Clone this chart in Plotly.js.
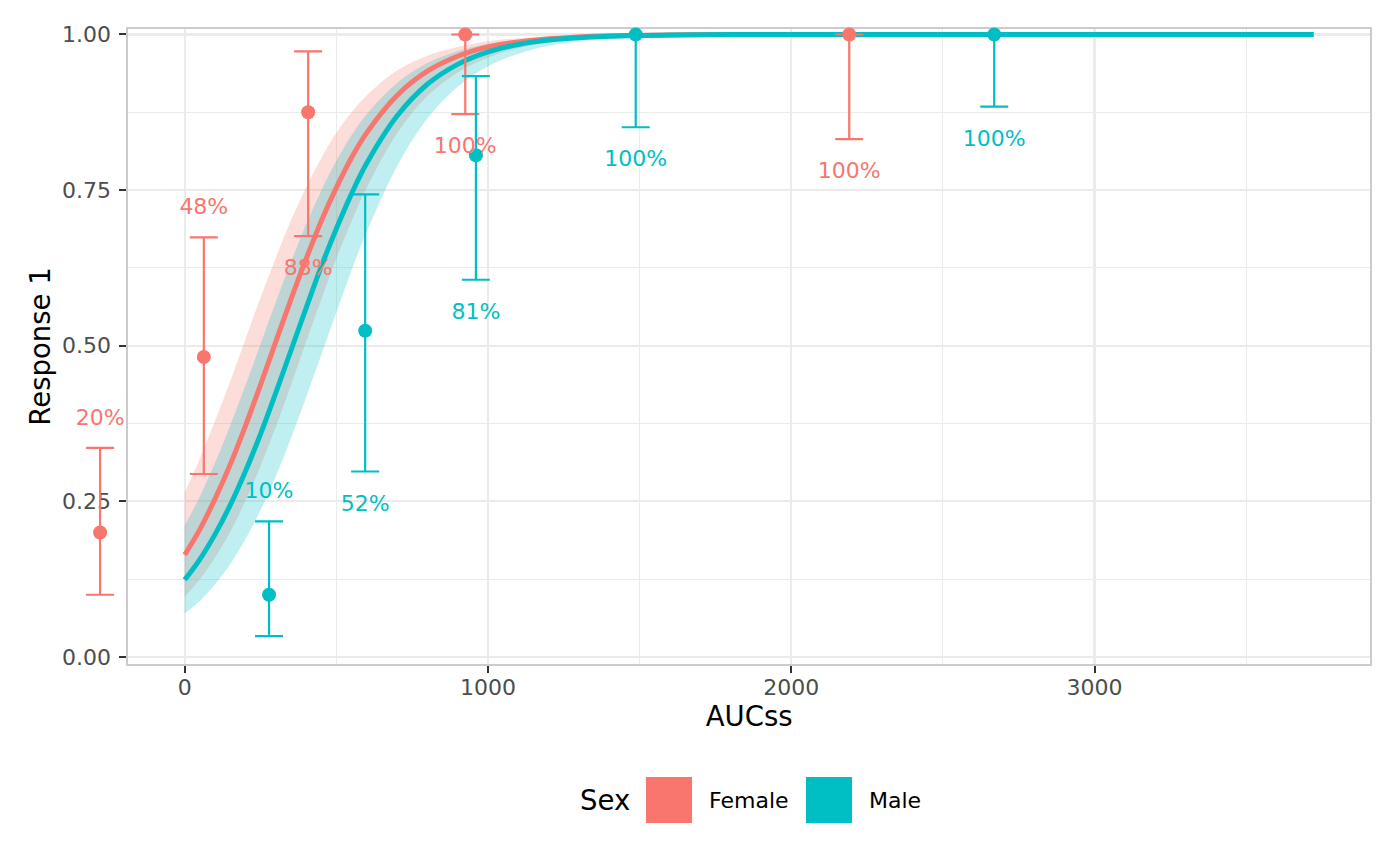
<!DOCTYPE html>
<html>
<head>
<meta charset="utf-8">
<script src="https://cdn.plot.ly/plotly-3.0.1.min.js"></script>
<style>
  html, body { margin: 0; padding: 0; background: #ffffff; }
  #chart { width: 1400px; height: 866px; }
</style>
</head>
<body>
<div id="chart"></div>
<script>
// Fitted curves
const curveX = [0, 50, 100, 150, 200, 250, 300, 350, 400, 450, 500, 550, 600, 700, 800, 900, 1000, 1100, 1200, 1400, 1600, 1800, 2000, 2500, 3000, 3722];

const femaleFit = [0.164, 0.205, 0.254, 0.309, 0.371, 0.437, 0.506, 0.574, 0.639, 0.700, 0.754, 0.802, 0.842, 0.902, 0.941, 0.965, 0.980, 0.988, 0.993, 0.998, 0.999, 1.0, 1.0, 1.0, 1.0, 1.0];
const femaleLow = [0.097, 0.125, 0.160, 0.201, 0.251, 0.307, 0.369, 0.436, 0.506, 0.574, 0.640, 0.700, 0.754, 0.841, 0.901, 0.939, 0.963, 0.978, 0.987, 0.995, 0.998, 0.999, 1.0, 1.0, 1.0, 1.0];
const femaleHigh = [0.264, 0.319, 0.379, 0.443, 0.510, 0.577, 0.641, 0.701, 0.754, 0.801, 0.842, 0.875, 0.902, 0.942, 0.966, 0.980, 0.989, 0.994, 0.996, 0.999, 1.0, 1.0, 1.0, 1.0, 1.0, 1.0];

const maleFit = [0.124, 0.157, 0.197, 0.244, 0.298, 0.358, 0.424, 0.492, 0.560, 0.627, 0.688, 0.744, 0.793, 0.869, 0.920, 0.952, 0.972, 0.984, 0.991, 0.997, 0.999, 1.0, 1.0, 1.0, 1.0, 1.0];
const maleLow = [0.070, 0.090, 0.117, 0.149, 0.189, 0.236, 0.290, 0.351, 0.417, 0.485, 0.554, 0.621, 0.683, 0.788, 0.865, 0.916, 0.949, 0.969, 0.982, 0.994, 0.998, 0.999, 1.0, 1.0, 1.0, 1.0];
const maleHigh = [0.211, 0.258, 0.312, 0.372, 0.436, 0.503, 0.570, 0.634, 0.695, 0.749, 0.797, 0.838, 0.872, 0.922, 0.954, 0.973, 0.985, 0.991, 0.995, 0.998, 1.0, 1.0, 1.0, 1.0, 1.0, 1.0];

// Observed proportions per exposure bin
const femaleX = [-279, 63, 407, 925, 2191];
const femaleP = [0.200, 0.482, 0.875, 1.0, 1.0];
const femaleLo = [0.100, 0.294, 0.676, 0.872, 0.832];
const femaleHi = [0.336, 0.674, 0.973, 1.0, 1.0];
const femaleLabels = ["20%", "48%", "88%", "100%", "100%"];

const maleX = [278, 595, 960, 1487, 2669];
const maleP = [0.100, 0.524, 0.806, 1.0, 1.0];
const maleLo = [0.0335, 0.298, 0.606, 0.851, 0.884];
const maleHi = [0.218, 0.743, 0.933, 1.0, 1.0];
const maleLabels = ["10%", "52%", "81%", "100%", "100%"];

const RED = "#F8766D";
const CYAN = "#00BFC4";
const FONT = "DejaVu Sans";

// x range of the panel, and a wider hidden axis with the same scale so that
// points left of the panel (drawn unclipped in the original) still show up
const X_RANGE = [-186, 3908];
const X_WIDE = [-444.2, 3908];
const X_DOMAIN = [0.0593, 1];
const Y_RANGE = [-0.0112, 1.0088];

// label goes above the bar for low points, below it for high ones
// (plotly centres text a touch high, hence the uneven nudges)
function labelY(p, lo, hi) {
  return p.map((v, i) => (v > 0.5 ? lo[i] - 0.054 : hi[i] + 0.046));
}

function ribbon(lo, hi, fill) {
  return [
    { x: curveX, y: lo, mode: "lines", line: { width: 0, shape: "spline" }, hoverinfo: "skip", showlegend: false },
    { x: curveX, y: hi, mode: "lines", fill: "tonexty", fillcolor: fill, line: { width: 0, shape: "spline" }, hoverinfo: "skip", showlegend: false },
  ];
}

function fitLine(y, color) {
  return { x: curveX, y: y, mode: "lines", line: { color: color, width: 5, shape: "spline" }, showlegend: false };
}

function points(x, p, lo, hi, color) {
  return {
    x: x, y: p, xaxis: "x2", yaxis: "y2",
    mode: "markers", cliponaxis: false, showlegend: false,
    marker: { color: color, size: 14 },
    error_y: {
      type: "data", symmetric: false,
      array: hi.map((v, i) => v - p[i]),
      arrayminus: lo.map((v, i) => p[i] - v),
      color: color, thickness: 2.2, width: 14,
    },
  };
}

function labels(x, p, lo, hi, txt, color) {
  return {
    x: x, y: labelY(p, lo, hi), text: txt, xaxis: "x2", yaxis: "y2",
    mode: "text", cliponaxis: false, showlegend: false,
    textposition: "middle center",
    textfont: { family: FONT, size: 22, color: color },
  };
}

const traces = [
  ...ribbon(femaleLow, femaleHigh, "rgba(248,118,109,0.25)"),
  ...ribbon(maleLow, maleHigh, "rgba(0,191,196,0.25)"),
  fitLine(femaleFit, RED),
  fitLine(maleFit, CYAN),
  points(femaleX, femaleP, femaleLo, femaleHi, RED),
  points(maleX, maleP, maleLo, maleHi, CYAN),
  labels(femaleX, femaleP, femaleLo, femaleHi, femaleLabels, RED),
  labels(maleX, maleP, maleLo, maleHi, maleLabels, CYAN),
];

const axisCommon = {
  showline: true, mirror: true, linecolor: "#CCCCCC", linewidth: 2,
  ticks: "outside", ticklen: 7, tickwidth: 2, tickcolor: "#333333",
  tickfont: { family: FONT, size: 22, color: "#4D4D4D" },
  showgrid: true, gridcolor: "#EBEBEB", gridwidth: 2.2,
  zeroline: false,
};

// hand-drawn legend (ggplot-style big keys)
const legendShapes = [
  { type: "rect", xref: "paper", yref: "paper", x0: 0.4515, x1: 0.4864, y0: -0.2504, y1: -0.178, fillcolor: RED, line: { width: 0 } },
  { type: "rect", xref: "paper", yref: "paper", x0: 0.5727, x1: 0.6076, y0: -0.2504, y1: -0.178, fillcolor: CYAN, line: { width: 0 } },
];
const legendText = [
  { text: "Sex", x: 0.4, size: 27.5 },
  { text: "Female", x: 0.4977, size: 22 },
  { text: "Male", x: 0.6189, size: 22 },
].map((d) => ({
  text: d.text, xref: "paper", yref: "paper", x: d.x, y: -0.2142,
  xanchor: "left", yanchor: "middle", showarrow: false,
  font: { family: FONT, size: d.size, color: "#000000" },
}));

const layout = {
  width: 1400, height: 866,
  margin: { l: 50, r: 30, t: 29, b: 202, pad: 0 },
  paper_bgcolor: "#ffffff", plot_bgcolor: "rgba(0,0,0,0)",
  font: { family: FONT },
  showlegend: false,
  xaxis: {
    ...axisCommon,
    ticklabelstandoff: -4,
    domain: X_DOMAIN, anchor: "y",
    range: X_RANGE, tickvals: [0, 1000, 2000, 3000],
    minor: { dtick: 500, tick0: 0, showgrid: true, gridcolor: "#EBEBEB", gridwidth: 1.1, ticks: "" },
    title: { text: "AUCss", standoff: 0, font: { family: FONT, size: 27.5, color: "#000000" } },
  },
  yaxis: {
    ...axisCommon,
    ticklabelstandoff: 4,
    domain: [0, 1], anchor: "x",
    range: Y_RANGE, tickvals: [0, 0.25, 0.5, 0.75, 1], tickformat: ".2f",
    minor: { dtick: 0.125, tick0: 0, showgrid: true, gridcolor: "#EBEBEB", gridwidth: 1.1, ticks: "" },
    title: { text: "Response 1", standoff: 3, font: { family: FONT, size: 27.5, color: "#000000" } },
  },
  xaxis2: { domain: [0, 1], anchor: "y2", range: X_WIDE, visible: false, showgrid: false, zeroline: false },
  yaxis2: { domain: [0, 1], anchor: "x2", range: Y_RANGE, visible: false, showgrid: false, zeroline: false },
  shapes: legendShapes,
  annotations: legendText,
};

Plotly.newPlot("chart", traces, layout, { displayModeBar: false, staticPlot: true });
</script>
</body>
</html>
